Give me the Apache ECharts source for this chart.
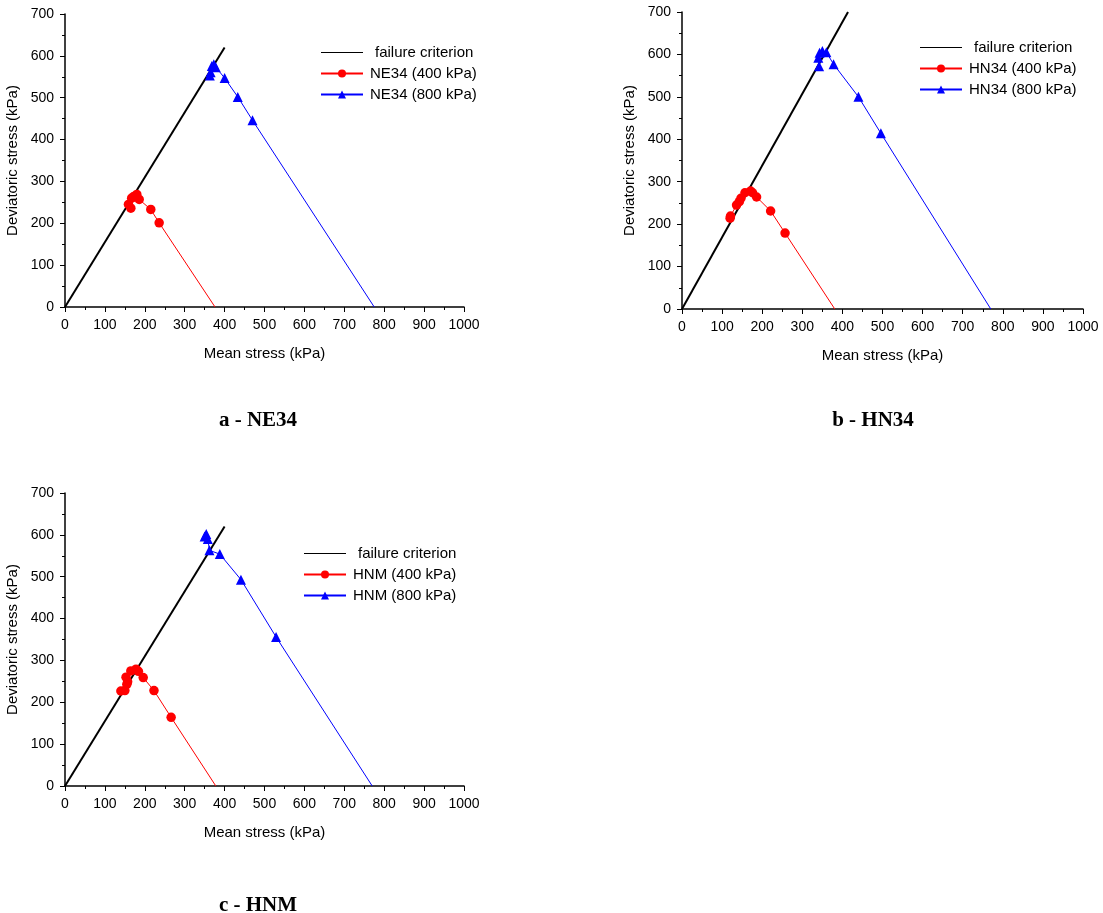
<!DOCTYPE html>
<html>
<head>
<meta charset="utf-8">
<script src="https://cdn.jsdelivr.net/npm/echarts@6/dist/echarts.min.js"></script>
<style>html,body{margin:0;padding:0;background:#fff}#c{width:1103px;height:913px}</style>
</head>
<body>
<div id="c"></div>
<script>
// ---- data (mean stress p [kPa], deviatoric stress q [kPa]) ----
const xTicks = [0, 1000, 100];   // min, max, interval
const yTicks = [0, 700, 100];
const failA = [[0, 0], [400, 620]];
const failB = [[0, 0], [414, 700]];
const failC = [[0, 0], [400, 620]];
const NE34_400 = [[376, 0], [236, 201], [215, 233], [186, 257], [180, 269], [172, 264], [167, 260], [165, 236], [159, 245]];
const NE34_800 = [[775, 0], [470, 446], [433, 502], [400, 547], [378, 573], [373, 580], [368, 576], [365, 561], [363, 553]];
const HN34_400 = [[381, 0], [257, 179], [221, 231], [186, 264], [176, 274], [171, 278], [157, 274], [147, 261], [143, 253], [136, 245], [121, 219], [120, 214]];
const HN34_800 = [[770, 0], [496, 414], [440, 500], [378, 577], [360, 605], [350, 608], [343, 604], [340, 592], [342, 572]];
const HNM_400 = [[378, 0], [266, 164], [223, 228], [196, 259], [184, 274], [178, 279], [165, 275], [153, 260], [157, 249], [155, 243], [150, 228], [140, 227]];
const HNM_800 = [[770, 0], [529, 356], [441, 493], [388, 554], [362, 563], [358, 590], [354, 602], [350, 596]];
const titles = ['a - NE34', 'b - HN34', 'c - HNM'];

const FONT = 'Liberation Sans, Arial, sans-serif';
const grids = [
  {left: 65, top: 14, width: 399, height: 293},
  {left: 682, top: 12, width: 401, height: 297},
  {left: 65, top: 493, width: 399, height: 293}
];
function xAx(i) {
  return {
    type: 'value', gridIndex: i, min: xTicks[0], max: xTicks[1], interval: xTicks[2],
    name: 'Mean stress (kPa)', nameLocation: 'middle', nameGap: 39,
    nameTextStyle: {fontFamily: FONT, fontSize: 15, color: '#000'},
    axisLine: {show: true, onZero: false, lineStyle: {color: '#000', width: 1.5}},
    axisTick: {show: true, length: 5, lineStyle: {color: '#000', width: 1}},
    minorTick: {show: true, splitNumber: 2, length: 3, lineStyle: {color: '#000', width: 1}},
    splitLine: {show: false},
    axisLabel: {color: '#000', fontFamily: FONT, fontSize: 14, margin: 11, hideOverlap: false,
      formatter: v => String(v)}
  };
}
function yAx(i) {
  return {
    type: 'value', gridIndex: i, min: yTicks[0], max: yTicks[1], interval: yTicks[2],
    name: 'Deviatoric stress (kPa)', nameLocation: 'middle', nameGap: 45,
    nameTextStyle: {fontFamily: FONT, fontSize: 15, color: '#000'},
    axisLine: {show: true, onZero: false, lineStyle: {color: '#000', width: 1.5}},
    axisTick: {show: true, length: 5, lineStyle: {color: '#000', width: 1}},
    minorTick: {show: true, splitNumber: 2, length: 3, lineStyle: {color: '#000', width: 1}},
    splitLine: {show: false},
    axisLabel: {color: '#000', fontFamily: FONT, fontSize: 14, margin: 11, formatter: v => String(v)}
  };
}
function fail(i, d) {
  return {name: 'failure criterion', type: 'line', xAxisIndex: i, yAxisIndex: i, data: d,
    symbol: 'none', lineStyle: {color: '#000', width: 2}, itemStyle: {color: '#000'}, z: 3, silent: true, animation: false};
}
function path(i, name, d, color, sym) {
  return {name: name, type: 'line', xAxisIndex: i, yAxisIndex: i,
    data: d.map((p, k) => k === 0 ? {value: p, symbol: 'none'} : p),
    symbol: sym, symbolSize: sym === 'circle' ? 9.5 : 10, showSymbol: true,
    lineStyle: {color: color, width: 1}, itemStyle: {color: color}, z: 4, animation: false};
}
function legend(left, top, names) {
  return {orient: 'vertical', left: left, top: top, itemWidth: 42, itemHeight: 10, itemGap: 6,
    data: [
      {name: names[0], itemStyle: {opacity: 0}, lineStyle: {width: 1.2}, textStyle: {padding: [0, 0, 0, 7]}},
      {name: names[1], textStyle: {padding: [0, 0, 0, 2]}},
      {name: names[2], textStyle: {padding: [0, 0, 0, 2]}}
    ],
    textStyle: {fontFamily: FONT, fontSize: 15, color: '#000'}, selectedMode: false, inactiveColor: '#000'};
}

const chart = echarts.init(document.getElementById('c'), null, {renderer: 'canvas'});
chart.setOption({
  backgroundColor: '#fff',
  animation: false,
  grid: grids,
  xAxis: [xAx(0), xAx(1), xAx(2)],
  yAxis: [yAx(0), yAx(1), yAx(2)],
  legend: [
    legend(315, 40, ['failure criterion', 'NE34 (400 kPa)', 'NE34 (800 kPa)']),
    legend(914, 35, ['failure criterion', 'HN34 (400 kPa)', 'HN34 (800 kPa)']),
    legend(298, 541, ['failure criterion', 'HNM (400 kPa)', 'HNM (800 kPa)'])
  ],
  title: [
    {text: titles[0], left: 253, top: 405, textAlign: 'center', textStyle: {fontFamily: 'Liberation Serif, Times New Roman, serif', fontSize: 21, fontWeight: 'bold', color: '#000'}},
    {text: titles[1], left: 868, top: 405, textAlign: 'center', textStyle: {fontFamily: 'Liberation Serif, Times New Roman, serif', fontSize: 21, fontWeight: 'bold', color: '#000'}},
    {text: titles[2], left: 253, top: 890, textAlign: 'center', textStyle: {fontFamily: 'Liberation Serif, Times New Roman, serif', fontSize: 21, fontWeight: 'bold', color: '#000'}}
  ],
  series: [
    fail(0, failA), path(0, 'NE34 (400 kPa)', NE34_400, '#ff0000', 'circle'), path(0, 'NE34 (800 kPa)', NE34_800, '#0000ff', 'triangle'),
    fail(1, failB), path(1, 'HN34 (400 kPa)', HN34_400, '#ff0000', 'circle'), path(1, 'HN34 (800 kPa)', HN34_800, '#0000ff', 'triangle'),
    fail(2, failC), path(2, 'HNM (400 kPa)', HNM_400, '#ff0000', 'circle'), path(2, 'HNM (800 kPa)', HNM_800, '#0000ff', 'triangle')
  ]
});
</script>
</body>
</html>
